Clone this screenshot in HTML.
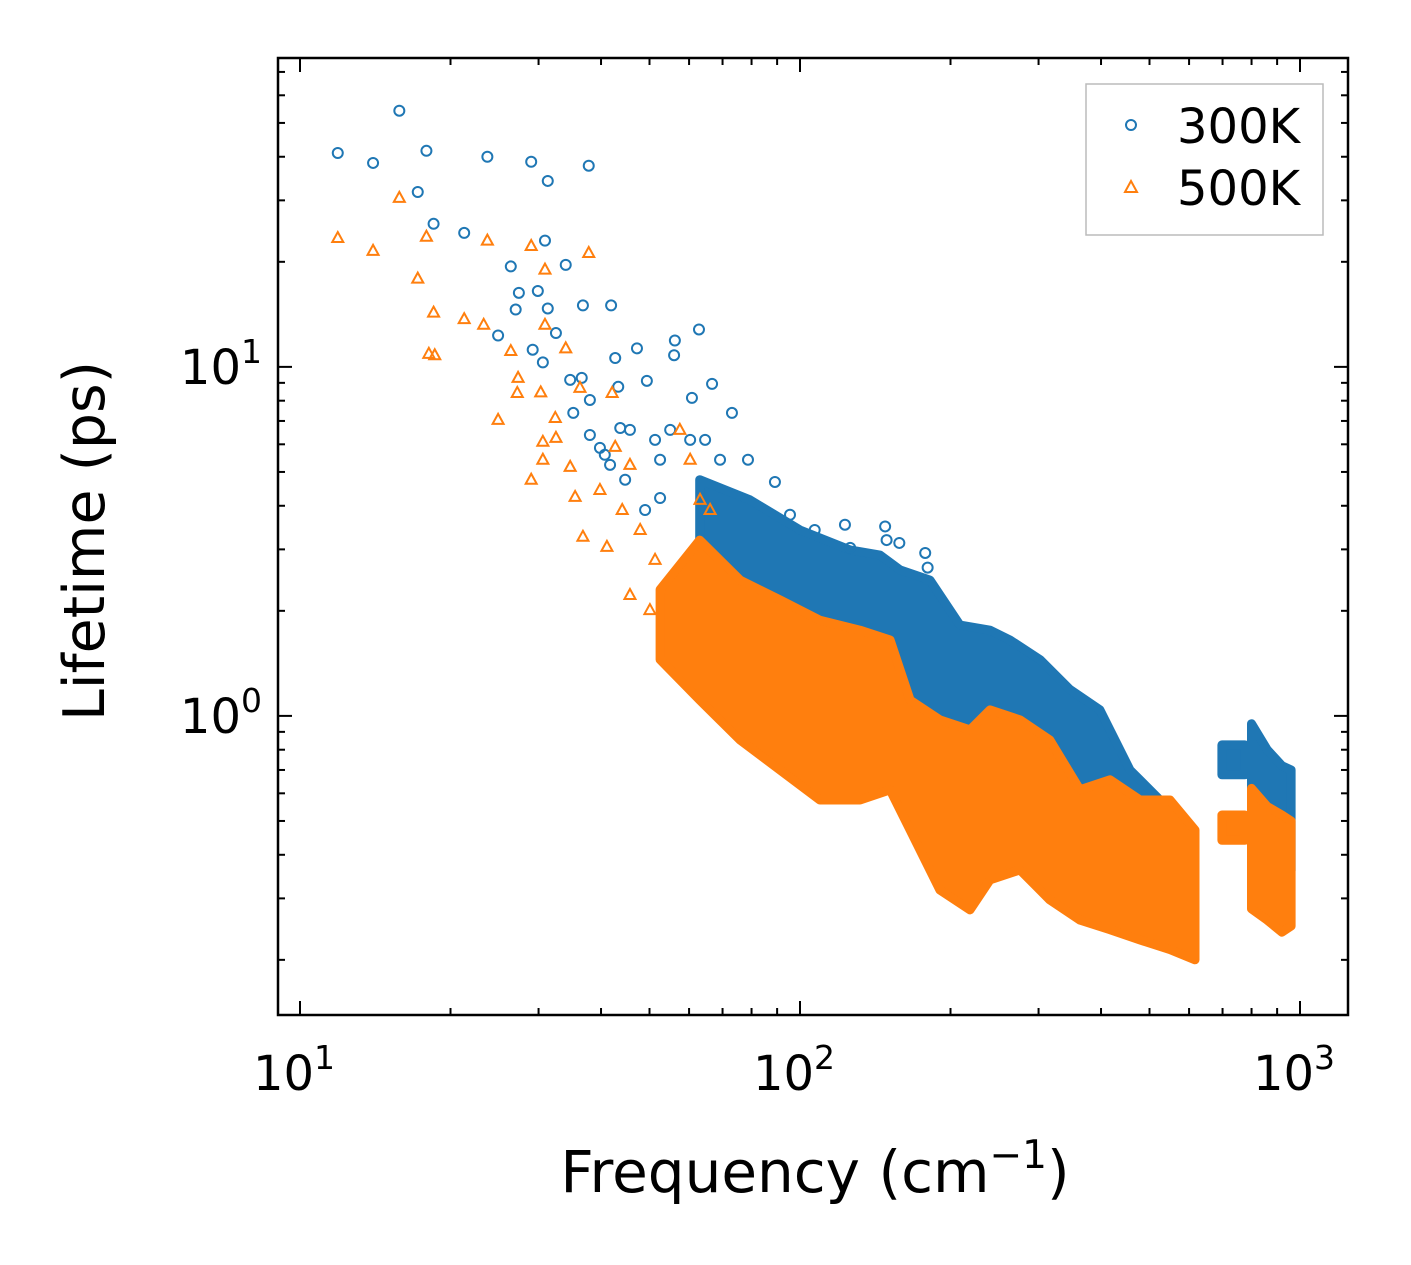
<!DOCTYPE html>
<html><head><meta charset="utf-8">
<style>
html,body{margin:0;padding:0;background:#fff;}
svg{display:block;font-family:"DejaVu Sans","Liberation Sans",sans-serif;}
</style></head>
<body>
<svg id="chart" width="1411" height="1265" viewBox="0 0 1411 1265" xmlns="http://www.w3.org/2000/svg">
<rect x="0" y="0" width="1411" height="1265" fill="#fff"/>
<g id="marks"></g>
<g id="axes"></g>
<rect x="278" y="58" width="1070" height="957" fill="none" stroke="#000" stroke-width="2.5"/>
<g>
<rect x="1086" y="84" width="237" height="151" fill="#fff" stroke="#bbb" stroke-width="1.5"/>
<circle cx="1131" cy="125" r="5" fill="none" stroke="#1f77b4" stroke-width="2"/>
<text x="1177" y="143" font-size="48">300K</text>
<polygon points="1131,181 1137,192 1125,192" fill="none" stroke="#ff7f0e" stroke-width="2"/>
<text x="1177" y="205" font-size="48">500K</text>
</g>
<text x="815" y="1192" font-size="58" text-anchor="middle">Frequency (cm<tspan font-size="39" dy="-24">−1</tspan><tspan dy="24">)</tspan></text>
<text transform="translate(104,541) rotate(-90)" font-size="57" text-anchor="middle">Lifetime (ps)</text>
</svg>
<script>
const blueFreq=[11.9,14.0,15.8,17.2,17.9,18.5,21.3,23.7,26.4,27.4,27.0,29.0,30.9,31.3,29.9,31.3,32.5,24.9,29.2,30.6,34.0,36.8,41.9,37.8,36.6,34.7,38.0,35.2,42.7,43.3,43.7,47.2,49.4,56.2,56.0,62.8,66.7,73.1,60.8,55.0,60.3,51.3,45.7,39.8,41.7,52.5,64.6,69.2,78.7,89.1,95.5,107,123,148,149,158,178,180,126,52.5,49.0,44.7,40.7,38.0];
const blueLife=[41.0,38.4,54.2,31.7,41.6,25.7,24.2,40.0,19.4,16.3,14.6,38.7,23.0,34.1,16.5,14.7,12.5,12.3,11.2,10.3,19.6,15.0,15.0,37.7,9.30,9.18,8.04,7.38,10.6,8.77,6.68,11.3,9.12,11.9,10.8,12.8,8.94,7.38,8.15,6.60,6.18,6.18,6.60,5.86,5.24,5.42,6.18,5.42,5.42,4.68,3.77,3.41,3.53,3.49,3.19,3.13,2.93,2.66,3.03,4.21,3.89,4.75,5.60,6.38];
const orangeFreq=[11.9,14.0,15.8,17.2,17.9,18.5,18.1,18.6,21.3,23.3,23.7,26.4,24.9,27.3,27.2,29.0,29.0,30.9,30.9,30.3,30.6,30.6,32.5,34.0,32.4,37.8,36.3,34.7,35.5,36.8,41.1,39.8,42.1,45.7,42.7,44.1,45.7,50.1,47.9,51.3,57.5,60.3,63.1,66.1];
const orangeLife=[23.4,21.5,30.5,17.9,23.6,14.3,10.9,10.8,13.7,13.2,23.0,11.1,7.05,9.30,8.42,22.2,4.75,19.0,13.2,8.45,6.10,5.42,6.26,11.3,7.14,21.2,8.71,5.17,4.24,3.26,3.05,4.44,8.42,5.24,5.90,3.89,2.22,2.01,3.41,2.80,6.60,5.42,4.16,3.89];
// dense clouds: per-frequency envelope (lower / upper lifetime)
const blueBandFreq=[63,79.4,100,125.9,144.5,158.5,182,208.9,239.9,263,302,346.7,398,457,524.8,602.6];
const blueBandLo=[1.55,1.27,1.11,0.974,0.912,0.853,0.700,0.614,0.574,0.538,0.503,0.441,0.413,0.386,0.362,0.317];
const blueBandHi=[4.75,4.16,3.41,2.99,2.89,2.62,2.45,1.82,1.76,1.65,1.45,1.19,1.04,0.700,0.574,0.441];
const blueSeg1Freq=[698,776];const blueSeg1Lo=[0.678,0.678];const blueSeg1Hi=[0.826,0.826];
const blueSeg2Freq=[800,860,920,960];const blueSeg2Lo=[0.36,0.33,0.34,0.36];const blueSeg2Hi=[0.95,0.80,0.72,0.70];
const orangeBandFreq=[52.5,63,75.9,91.2,109.6,131.8,151.4,166,190.5,218.8,239.9,275.4,316,363,417,478.6,549.5,616.6];
const orangeBandLo=[1.45,1.11,0.853,0.700,0.574,0.574,0.614,0.471,0.317,0.278,0.339,0.362,0.297,0.260,0.244,0.228,0.214,0.200];
const orangeBandHi=[2.30,3.19,2.45,2.15,1.88,1.76,1.65,1.11,0.974,0.912,1.04,0.974,0.853,0.614,0.656,0.574,0.574,0.471];
const orangeSeg1Freq=[698,776];const orangeSeg1Lo=[0.44,0.44];const orangeSeg1Hi=[0.52,0.52];
const orangeSeg2Freq=[800,860,920,960];const orangeSeg2Lo=[0.28,0.26,0.24,0.25];const orangeSeg2Hi=[0.62,0.55,0.52,0.50];
const xTickValues=[10,100,1000];const xTickExp=["1","2","3"];
const yTickValues=[1,10];const yTickExp=["0","1"];

const NS="http://www.w3.org/2000/svg";
const X0=278,X1=1348,Y0=1015,Y1=58;
const LX0=0.956,LX1=3.096,LY0=-0.857,LY1=1.885;
function xs(v){return X0+(Math.log10(v)-LX0)/(LX1-LX0)*(X1-X0);}
function ys(v){return Y0-(Math.log10(v)-LY0)/(LY1-LY0)*(Y0-Y1);}
const marks=document.getElementById('marks');
const axes=document.getElementById('axes');
function mk(tag,attrs,parent){const e=document.createElementNS(NS,tag);for(const k in attrs)e.setAttribute(k,attrs[k]);parent.appendChild(e);return e;}
function band(fr,lo,hi,color,name){
  let pts=[];
  for(let i=0;i<fr.length;i++)pts.push(xs(fr[i]).toFixed(1)+','+ys(hi[i]).toFixed(1));
  for(let i=fr.length-1;i>=0;i--)pts.push(xs(fr[i]).toFixed(1)+','+ys(lo[i]).toFixed(1));
  const p=mk('polygon',{points:pts.join(' '),fill:color,stroke:color,'stroke-width':9,'stroke-linejoin':'round'},marks);
  
  
}
function circles(fr,li,name){
  for(let i=0;i<fr.length;i++){
    const c=mk('circle',{cx:xs(fr[i]),cy:ys(li[i]),r:5,fill:'none',stroke:'#1f77b4','stroke-width':2},marks);
    
    
  }
}
function tris(fr,li,name){
  for(let i=0;i<fr.length;i++){
    const x=xs(fr[i]),y=ys(li[i]);
    const t=mk('polygon',{points:`${x},${y-6} ${x+5.5},${y+4} ${x-5.5},${y+4}`,fill:'none',stroke:'#ff7f0e','stroke-width':2},marks);
    
    
  }
}
band(blueBandFreq,blueBandLo,blueBandHi,'#1f77b4','cloud-300k');
band(blueSeg1Freq,blueSeg1Lo,blueSeg1Hi,'#1f77b4','cloud-300k-high-1');
band(blueSeg2Freq,blueSeg2Lo,blueSeg2Hi,'#1f77b4','cloud-300k-high-2');
circles(blueFreq,blueLife,'point-300k');
band(orangeBandFreq,orangeBandLo,orangeBandHi,'#ff7f0e','cloud-500k');
band(orangeSeg1Freq,orangeSeg1Lo,orangeSeg1Hi,'#ff7f0e','cloud-500k-high-1');
band(orangeSeg2Freq,orangeSeg2Lo,orangeSeg2Hi,'#ff7f0e','cloud-500k-high-2');
tris(orangeFreq,orangeLife,'point-500k');

function tick(x1,y1,x2,y2,name){const l=mk('line',{x1,y1,x2,y2,stroke:'#000','stroke-width':2},axes);
  
  }
for(let d=1;d<=3;d++){for(let m=1;m<=9;m++){const v=m*Math.pow(10,d);const x=xs(v);if(x<X0||x>X1)continue;const L=m==1?14:7;
  tick(x,Y0,x,Y0-L,'x-tick');tick(x,Y1,x,Y1+L,'x-tick-top');}}
for(let d=-1;d<=1;d++){for(let m=1;m<=9;m++){const v=m*Math.pow(10,d);const y=ys(v);if(y<Y1||y>Y0)continue;const L=m==1?14:7;
  tick(X0,y,X0+L,y,'y-tick');tick(X1,y,X1-L,y,'y-tick-right');}}
xTickValues.forEach((v,i)=>{const t=mk('text',{x:xs(v)-6,y:1090,'font-size':48,'text-anchor':'middle'},axes);
  
  
  t.innerHTML='10<tspan font-size="33" dy="-21">'+xTickExp[i]+'</tspan>';});
yTickValues.forEach((v,i)=>{const t=mk('text',{x:262,y:ys(v)+17,'font-size':48,'text-anchor':'end'},axes);
  
  
  t.innerHTML='10<tspan font-size="33" dy="-21">'+yTickExp[i]+'</tspan>';});
</script>
</body></html>
